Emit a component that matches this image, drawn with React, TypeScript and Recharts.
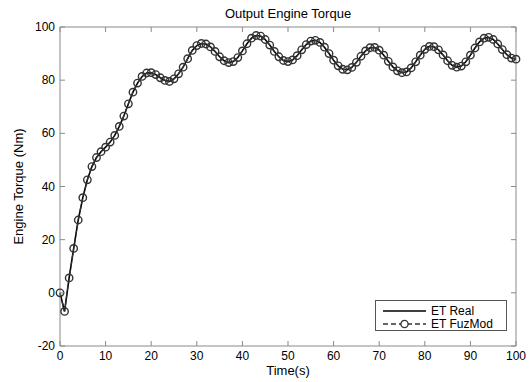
import { Legend, Line, LineChart, XAxis, YAxis } from "recharts"

// sample time (s), one point per second
const time = Array.from({ length: 101 }, (_, i) => i)

// measured engine torque (Nm)
const etReal = [
  0, -7, 5.6, 16.7, 27.4, 35.8, 42.5, 47.5, 50.9, 53.1,
  54.8, 56.7, 59.2, 62.6, 66.5, 71.1, 75.5, 78.9, 81.4, 82.7,
  82.8, 82.1, 80.9, 79.9, 79.5, 80.5, 82.4, 84.9, 88.1, 91.2,
  93.0, 93.8, 93.6, 92.5, 90.8, 88.8, 87.3, 86.6, 87.0, 88.5,
  91.0, 93.7, 95.8, 96.8, 96.6, 95.3, 93.2, 90.8, 88.8, 87.4,
  87.0, 87.6, 89.2, 91.4, 93.4, 94.7, 95.0, 94.2, 92.4, 90.0,
  87.5, 85.4, 84.1, 83.9, 84.8, 86.7, 89.0, 91.0, 92.2, 92.3,
  91.3, 89.4, 87.1, 85.0, 83.5, 82.8, 83.1, 84.6, 86.9, 89.4,
  91.6, 92.7, 92.6, 91.4, 89.5, 87.3, 85.6, 84.9, 85.3, 86.9,
  89.4, 92.1, 94.4, 95.8, 96.1, 95.3, 93.6, 91.5, 89.6, 88.3,
  87.9,
]

// fuzzy model output, sits right on top of the real curve
const etFuzMod = [
  0, -7, 5.6, 16.7, 27.4, 35.8, 42.5, 47.5, 50.9, 53.1,
  54.8, 56.7, 59.2, 62.6, 66.5, 71.1, 75.5, 78.9, 81.4, 82.7,
  82.8, 82.1, 80.9, 79.9, 79.5, 80.5, 82.4, 84.9, 88.1, 91.2,
  93.0, 93.8, 93.6, 92.5, 90.8, 88.8, 87.3, 86.6, 87.0, 88.5,
  91.0, 93.7, 95.8, 96.8, 96.6, 95.3, 93.2, 90.8, 88.8, 87.4,
  87.0, 87.6, 89.2, 91.4, 93.4, 94.7, 95.0, 94.2, 92.4, 90.0,
  87.5, 85.4, 84.1, 83.9, 84.8, 86.7, 89.0, 91.0, 92.2, 92.3,
  91.3, 89.4, 87.1, 85.0, 83.5, 82.8, 83.1, 84.6, 86.9, 89.4,
  91.6, 92.7, 92.6, 91.4, 89.5, 87.3, 85.6, 84.9, 85.3, 86.9,
  89.4, 92.1, 94.4, 95.8, 96.1, 95.3, 93.6, 91.5, 89.6, 88.3,
  87.9,
]

const xTicks = [0, 10, 20, 30, 40, 50, 60, 70, 80, 90, 100]
const yTicks = [-20, 0, 20, 40, 60, 80, 100]

const data = time.map((t, i) => ({ t, real: etReal[i], fuz: etFuzMod[i] }))

const AXIS = "#8a8a8a"
const FONT = "'Liberation Sans', Arial, sans-serif"
const TICK_LEN = 5

// MATLAB-style ticks point into the box, so each tick draws its own mark
const BottomTick = ({ x, y, payload }: any) => (
  <g>
    <line x1={x} x2={x} y1={y} y2={y - TICK_LEN} stroke={AXIS} />
    <text x={x} y={y + 14} textAnchor="middle" fontSize={12} fill="#000">
      {payload.value}
    </text>
  </g>
)
const TopTick = ({ x, y }: any) => (
  <line x1={x} x2={x} y1={y} y2={y + TICK_LEN} stroke={AXIS} />
)
const LeftTick = ({ x, y, payload }: any) => (
  <g>
    <line x1={x} x2={x + TICK_LEN} y1={y} y2={y} stroke={AXIS} />
    <text x={x - 5} y={y + 4} textAnchor="end" fontSize={12} fill="#000">
      {payload.value}
    </text>
  </g>
)
const RightTick = ({ x, y }: any) => (
  <line x1={x} x2={x - TICK_LEN} y1={y} y2={y} stroke={AXIS} />
)

const legendRows = [
  { name: "ET Real", dashed: false, marker: false },
  { name: "ET FuzMod", dashed: true, marker: true },
]

const renderLegend = () => (
  <div
    style={{
      width: 132,
      height: 31,
      border: "1px solid #555",
      background: "#fff",
      fontFamily: FONT,
      fontSize: 12,
      color: "#000",
      paddingTop: 3,
      boxSizing: "border-box",
    }}
  >
    {legendRows.map((r) => (
      <div key={r.name} style={{ display: "flex", alignItems: "center", height: 13 }}>
        <svg width={55} height={12}>
          <line
            x1={7}
            x2={50}
            y1={6}
            y2={6}
            stroke={r.dashed ? "#333" : "#000"}
            strokeWidth={1.5}
            strokeDasharray={r.dashed ? "5 3" : undefined}
          />
          {r.marker && <circle cx={28.5} cy={6} r={3.6} fill="#fff" stroke="#333" strokeWidth={1.3} />}
        </svg>
        <span>{r.name}</span>
      </div>
    ))}
  </div>
)

export default function App() {
  return (
    <div style={{ position: "absolute", left: 0, top: 0, fontFamily: FONT }}>
      <LineChart width={530} height={382} data={data} margin={{ top: 26, right: 13, bottom: 0, left: 0 }}>
        <XAxis
          dataKey="t"
          type="number"
          domain={[0, 100]}
          ticks={xTicks}
          interval={0}
          height={36}
          stroke={AXIS}
          tickSize={0}
          tickMargin={0}
          tickLine={false}
          tick={<BottomTick />}
          label={{ value: "Time(s)", position: "insideBottom", offset: 7, fill: "#000", fontSize: 13 }}
        />
        <XAxis
          xAxisId="top"
          orientation="top"
          dataKey="t"
          type="number"
          domain={[0, 100]}
          ticks={xTicks}
          interval={0}
          height={1}
          stroke={AXIS}
          tickSize={0}
          tickMargin={0}
          tickLine={false}
          tick={<TopTick />}
          label={{ value: "Output Engine Torque", position: "top", offset: 8, fill: "#000", fontSize: 13 }}
        />
        <YAxis
          type="number"
          domain={[-20, 100]}
          ticks={yTicks}
          interval={0}
          width={60}
          stroke={AXIS}
          tickSize={0}
          tickMargin={0}
          tickLine={false}
          tick={<LeftTick />}
          label={{
            value: "Engine Torque (Nm)",
            angle: -90,
            position: "insideLeft",
            offset: 18,
            fill: "#000",
            fontSize: 13,
            style: { textAnchor: "middle" },
          }}
        />
        <YAxis
          yAxisId="right"
          orientation="right"
          type="number"
          domain={[-20, 100]}
          ticks={yTicks}
          interval={0}
          width={1}
          stroke={AXIS}
          tickSize={0}
          tickMargin={0}
          tickLine={false}
          tick={<RightTick />}
        />
        <Legend
          layout="horizontal"
          verticalAlign="middle"
          align="center"
          content={renderLegend}
          wrapperStyle={{ left: 375, top: 300, width: 132 }}
        />
        <Line
          dataKey="real"
          name="ET Real"
          stroke="#000"
          strokeWidth={1.6}
          dot={false}
          isAnimationActive={false}
        />
        {/* same domains as the main axes, so this also keeps the box's top/right axes alive */}
        <Line
          xAxisId="top"
          yAxisId="right"
          dataKey="fuz"
          name="ET FuzMod"
          stroke="#333"
          strokeWidth={1.2}
          strokeDasharray="5 3"
          dot={{ r: 3.7, stroke: "#333", strokeWidth: 1.4, fill: "none", strokeDasharray: "0" }}
          isAnimationActive={false}
        />
      </LineChart>
    </div>
  )
}
